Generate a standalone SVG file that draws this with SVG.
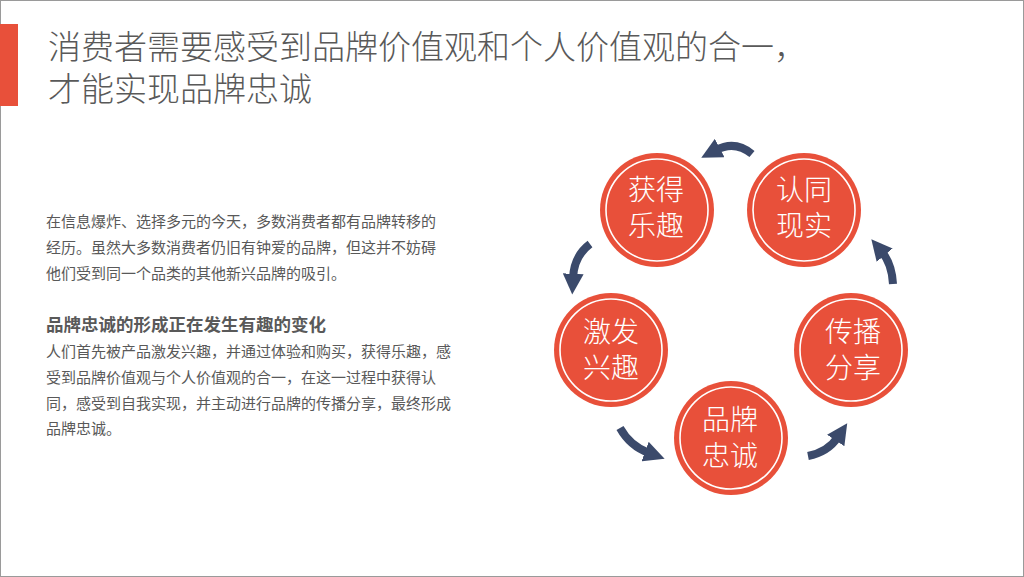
<svg xmlns="http://www.w3.org/2000/svg" width="1024" height="577" viewBox="0 0 1024 577">
<style>
.t{font-family:"Noto Sans CJK SC",sans-serif;fill:#595959}
.b{font-size:15px}
.c{fill:#E8503A}
.r{fill:none;stroke:#fff;stroke-width:1.6}
.n{font-family:"Noto Sans CJK SC",sans-serif;fill:#fff;font-size:28px;font-weight:300;text-anchor:middle}
.a{fill:none;stroke:#3B4A6B;stroke-width:8}
</style>
<defs><marker id="h" viewBox="0 0 10 10" refX="2" refY="5" markerWidth="2.6" markerHeight="2.6" orient="auto" markerUnits="strokeWidth"><path d="M0,0L10,5L0,10z" fill="#3B4A6B"/></marker></defs>
<rect x="0.5" y="0.5" width="1023" height="576" fill="#fff" stroke="#9a9a9a"/>
<rect x="0" y="24" width="18" height="82" fill="#E8503A"/>
<text class="t" x="48" y="59" font-size="33" font-weight="300">消费者需要感受到品牌价值观和个人价值观的合一，</text>
<text class="t" x="48" y="101" font-size="33" font-weight="300">才能实现品牌忠诚</text>
<text class="t b" x="46" y="227">在信息爆炸、选择多元的今天，多数消费者都有品牌转移的</text>
<text class="t b" x="46" y="253">经历。虽然大多数消费者仍旧有钟爱的品牌，但这并不妨碍</text>
<text class="t b" x="46" y="279">他们受到同一个品类的其他新兴品牌的吸引。</text>
<text class="t" x="46" y="331" font-size="17.5" font-weight="bold">品牌忠诚的形成正在发生有趣的变化</text>
<text class="t b" x="46" y="357">人们首先被产品激发兴趣，并通过体验和购买，获得乐趣，感</text>
<text class="t b" x="46" y="383">受到品牌价值观与个人价值观的合一，在这一过程中获得认</text>
<text class="t b" x="46" y="409">同，感受到自我实现，并主动进行品牌的传播分享，最终形成</text>
<text class="t b" x="46" y="434">品牌忠诚。</text>
<g id="connectors">
<path class="a" d="M752,154 Q735,140 716,150" marker-end="url(#h)"/>
<path class="a" d="M590,244 Q574,256 573,278" marker-end="url(#h)"/>
<path class="a" d="M620,428 Q630,446 649,453" marker-end="url(#h)"/>
<path class="a" d="M808,456 Q828,452 838,437" marker-end="url(#h)"/>
<path class="a" d="M893,284 Q892,264 882,252" marker-end="url(#h)"/>
</g>
<g id="n1"><circle class="c" cx="657" cy="210" r="57"/><circle class="r" cx="657" cy="210" r="51"/><text class="n" x="656" y="200">获得</text><text class="n" x="656" y="236">乐趣</text></g>
<g id="n2"><circle class="c" cx="804" cy="210" r="57"/><circle class="r" cx="804" cy="210" r="51"/><text class="n" x="804" y="200">认同</text><text class="n" x="804" y="236">现实</text></g>
<g id="n3"><circle class="c" cx="611" cy="350" r="57"/><circle class="r" cx="611" cy="350" r="51"/><text class="n" x="611" y="342">激发</text><text class="n" x="611" y="378">兴趣</text></g>
<g id="n4"><circle class="c" cx="851" cy="350" r="57"/><circle class="r" cx="851" cy="350" r="51"/><text class="n" x="853" y="342">传播</text><text class="n" x="853" y="378">分享</text></g>
<g id="n5"><circle class="c" cx="731" cy="438" r="57"/><circle class="r" cx="731" cy="438" r="51"/><text class="n" x="730" y="430">品牌</text><text class="n" x="730" y="466">忠诚</text></g>
</svg>
